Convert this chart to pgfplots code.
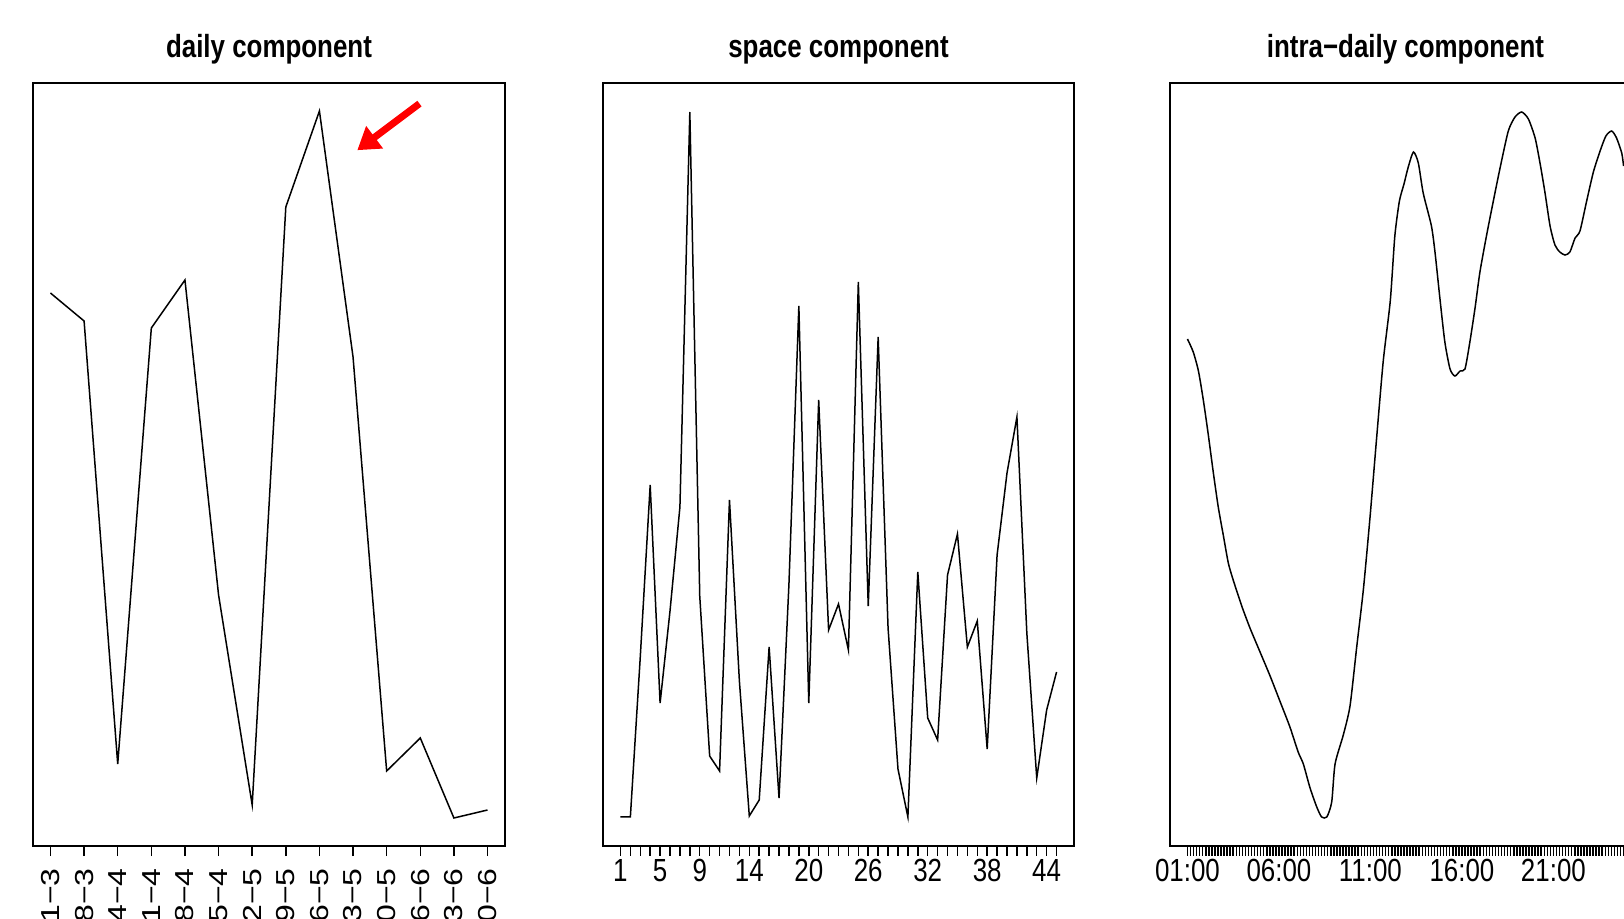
\documentclass[border=0pt]{standalone}
\usepackage{fontspec}
\setmainfont{Liberation Sans}[FakeStretch=0.81]
\newfontfamily\rotfont{Liberation Sans}[FakeStretch=1.23]
\usepackage{pgfplots}
\pgfplotsset{compat=1.18}
\usetikzlibrary{arrows.meta}

\pgfplotsset{
  rpanel/.style={
    scale only axis, width=141.3pt, height=228.9pt,
    anchor=south west,
    ymin=0, ymax=763, ytick=\empty,
    axis line style={line width=0.6pt, black},
    tick align=outside, major tick length=3pt, minor tick length=3pt,
    tick style={black, line width=0.45pt},
    xtick pos=left, xticklabel pos=left,
    title style={at={(0.5,1)}, anchor=base, yshift=1.8pt, inner sep=0pt,
      font=\bfseries\fontsize{9.6}{11}\selectfont},
  },
  rline/.style={black, line width=0.45pt, mark=none},
  numlab/.style={
    xticklabel style={anchor=base, inner sep=0pt, yshift=-7.6pt,
      font=\fontsize{9.6}{11}\selectfont},
  },
}

\begin{document}
\begin{tikzpicture}
\path[use as bounding box] (0,0) rectangle (487.2pt,275.7pt);
\clip (0,0) rectangle (487.2pt,275.7pt);

% daily component
\begin{axis}[rpanel, at={(9.9pt,21.9pt)}, width=141.6pt,
  xmin=0.48, xmax=14.52, xtick={1,...,14},
  xticklabels={21−3,28−3,04−4,11−4,18−4,25−4,02−5,09−5,16−5,23−5,30−5,06−6,13−6,20−6},
  xticklabel style={yshift=-3.5pt, rotate=90, anchor=east, inner sep=0pt,
    font=\rotfont\fontsize{7.8}{9}\selectfont},
  title={daily component}]
\addplot[rline] coordinates {(1,553) (2,525) (3,82) (4,518) (5,566) (6,251) (7,41)
  (8,639) (9,735) (10,489) (11,75) (12,108) (13,28) (14,36)};
\draw[red, line width=2.1pt, -{Triangle[length=6.5pt,width=8pt]}]
  (axis cs:11.976,742.4) -- (axis cs:10.126,695.8);
\end{axis}

% space component
\begin{axis}[rpanel, numlab, at={(180.9pt,21.9pt)},
  xmin=-0.76, xmax=46.76,
  xtick={1,5,9,14,20,26,32,38,44},
  xticklabels={1,5,9,14,20,26,32,38,44},
  minor xtick={1,...,45},
  title={space component}]
\addplot[rline] coordinates {(1,29) (2,29) (3,189) (4,361) (5,143) (6,235) (7,339)
  (8,734) (9,250) (10,90) (11,75) (12,346) (13,165) (14,30) (15,46) (16,199)
  (17,48) (18,262) (19,540) (20,143) (21,446) (22,216) (23,242) (24,196)
  (25,564) (26,240) (27,509) (28,218) (29,77) (30,29) (31,274) (32,128)
  (33,106) (34,271) (35,312) (36,199) (37,225) (38,97) (39,291) (40,373)
  (41,429) (42,213) (43,68) (44,136) (45,174)};
\end{axis}

% intra-daily component
\begin{axis}[rpanel, numlab, at={(351pt,21.9pt)},
  xmin=-5.72, xmax=148.72,
  xtick={0,30,60,90,120},
  xticklabels={01:00,06:00,11:00,16:00,21:00},
  minor xtick={0,...,143},
  title={intra−daily component}]
\addplot[rline, smooth, tension=0.4] coordinates {
  (0,507) (1.9,494) (3.6,475) (5.2,446) (6.8,412) (8.5,373) (10.1,339)
  (11.8,310) (13.4,283) (15.0,266) (17.8,240) (20.5,218) (23.8,194)
  (27.1,170) (30.3,145) (33.6,119) (36.3,94) (38.0,82) (40.2,58) (42.4,39)
  (44.0,29) (45.7,29) (47.3,44) (48.4,82) (51.1,111) (53.3,140) (55.5,199)
  (57.7,257) (59.9,330) (62.0,407) (64.2,485) (66.5,545) (68.0,610)
  (69.5,645) (71.0,662) (72.4,679) (74.1,694) (75.7,683) (77.3,653)
  (80.0,620) (81.2,593) (82.8,547) (84.4,504) (86.1,477) (87.7,470)
  (89.4,475) (91.0,477) (92.6,504) (94.3,538) (95.9,574) (98.1,611)
  (100.3,645) (102.5,678) (105.2,715) (107.4,729) (109.6,734) (111.8,727)
  (114.0,708) (115.6,683) (117.2,654) (118.9,620) (120.5,601) (122.1,594)
  (123.8,591) (125.4,594) (127.1,608) (128.7,615) (130.9,645) (133.1,674)
  (135.3,695) (137.2,710) (139.1,715) (140.7,708) (142.4,693) (143,680)};
\end{axis}
\end{tikzpicture}
\end{document}
